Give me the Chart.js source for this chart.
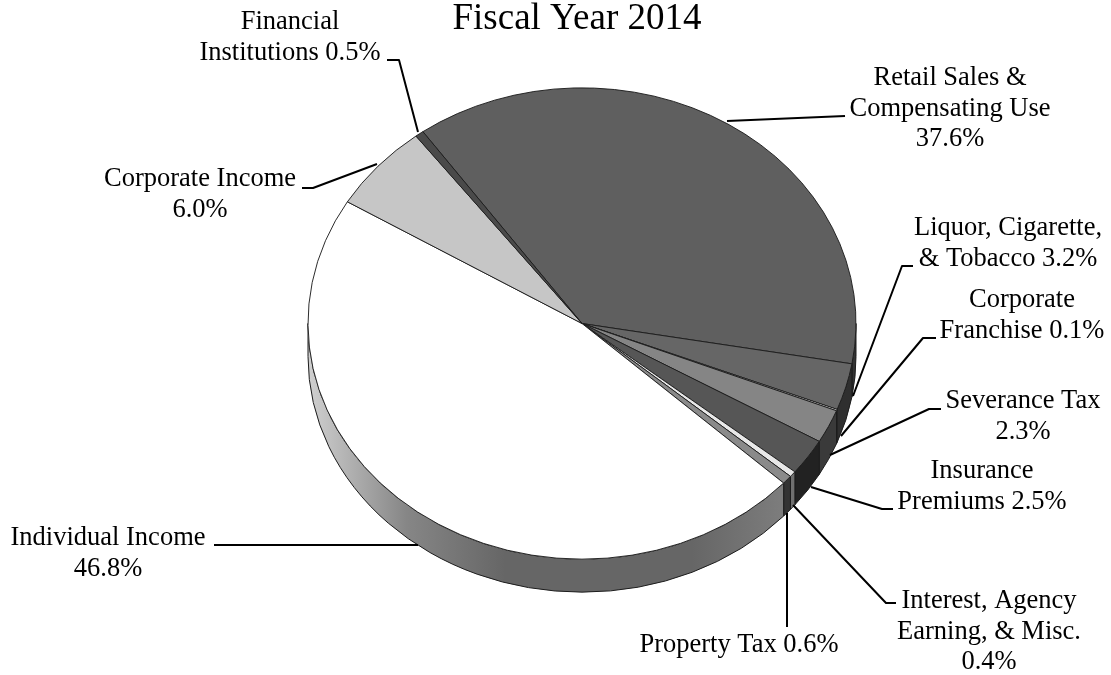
<!DOCTYPE html>
<html>
<head>
<meta charset="utf-8">
<style>
  html, body { margin: 0; padding: 0; background: #fff; }
  canvas { display: block; }
</style>
<script src="https://cdn.jsdelivr.net/npm/chart.js@4/dist/chart.umd.min.js"></script>
</head>
<body>
<canvas id="revenue" width="1111" height="675"></canvas>
<script>
// General revenue sources, share of total in percent
const categories = [
  'Retail Sales & Compensating Use', 'Liquor, Cigarette, & Tobacco', 'Corporate Franchise',
  'Severance Tax', 'Insurance Premiums', 'Interest, Agency Earning, & Misc.',
  'Property Tax', 'Individual Income', 'Corporate Income', 'Financial Institutions'
];
const shares = [37.6, 3.2, 0.1, 2.3, 2.5, 0.4, 0.6, 46.8, 6.0, 0.5];

const chartTitle = 'Fiscal Year 2014';

// Greys for the top face and for the cylinder wall of each slice
const faceColors = ['#5f5f5f', '#666666', '#f4f4f4', '#858585', '#565656', '#e8e8e8', '#8a8a8a', '#ffffff', '#c6c6c6', '#4a4a4a'];
const wallColors = ['#333333', '#2f2f2f', '#555555', '#3a3a3a', '#222222', '#707070', '#333333', null, '#888888', '#333333'];

// Disc geometry: the round pie is squashed into an ellipse and given a wall
const SQUASH = 0.86;
const DEPTH = 33;
const FONT = '"Liberation Serif", "Times New Roman", serif';
const LABEL_SIZE = 26.5;
const LINE_GAP = 30.7;

// Callout text: lines, centre x, first-line y, and the leader polyline
const callouts = [
  { lines: ['Retail Sales &', 'Compensating Use', '37.6%'], x: 950, y: 78,
    leader: [[845, 116], [727, 121]] },
  { lines: ['Liquor, Cigarette,', '& Tobacco 3.2%'], x: 1008, y: 228,
    leader: [[913, 266], [902, 266], [853, 396]] },
  { lines: ['Corporate', 'Franchise 0.1%'], x: 1022, y: 300,
    leader: [[936, 338], [923, 338], [841, 436]] },
  { lines: ['Severance Tax', '2.3%'], x: 1023, y: 401,
    leader: [[941, 409], [929, 409], [830, 455]] },
  { lines: ['Insurance', 'Premiums 2.5%'], x: 982, y: 471,
    leader: [[893, 509], [882, 509], [811, 487]] },
  { lines: ['Interest, Agency', 'Earning, & Misc.', '0.4%'], x: 989, y: 601,
    leader: [[896, 603], [886, 603], [793, 505]] },
  { lines: ['Property Tax 0.6%'], x: 739, y: 645,
    leader: [[787, 627], [787, 513]] },
  { lines: ['Individual Income', '46.8%'], x: 108, y: 538,
    leader: [[214, 545], [418, 545]] },
  { lines: ['Corporate Income', '6.0%'], x: 200, y: 179,
    leader: [[302, 188], [313, 188], [377, 164]] },
  { lines: ['Financial', 'Institutions 0.5%'], x: 290, y: 22,
    leader: [[387, 60], [399, 60], [418, 132]] }
];

// Wall of the disc: only the front half of the circle is visible
function drawWalls(chart) {
  const ctx = chart.ctx;
  const arcs = chart.getDatasetMeta(0).data;
  arcs.forEach((arc, i) => {
    const { x, y, outerRadius: r, startAngle, endAngle } = arc.getProps(['x', 'y', 'outerRadius', 'startAngle', 'endAngle'], true);
    const from = Math.max(startAngle, 0);
    const to = Math.min(endAngle, Math.PI);
    if (to <= from) return;
    const ry = r * SQUASH;
    ctx.beginPath();
    ctx.ellipse(x, y, r, ry, 0, from, to, false);
    ctx.ellipse(x, y + DEPTH, r, ry, 0, to, from, true);
    ctx.closePath();
    if (wallColors[i]) {
      ctx.fillStyle = wallColors[i];
    } else {
      const g = ctx.createLinearGradient(x - r, 0, x + r, 0);
      g.addColorStop(0, '#d0d0d0');
      g.addColorStop(0.18, '#868686');
      g.addColorStop(0.36, '#666666');
      g.addColorStop(0.7, '#666666');
      g.addColorStop(0.86, '#7c7c7c');
      g.addColorStop(1, '#7c7c7c');
      ctx.fillStyle = g;
    }
    ctx.fill();
    ctx.strokeStyle = '#1c1c1c';
    ctx.lineWidth = 1;
    ctx.stroke();
  });
}

const tiltedPie = {
  id: 'tiltedPie',
  beforeDatasetsDraw(chart) {
    drawWalls(chart);
    const { x, y } = chart.getDatasetMeta(0).data[0];
    const ctx = chart.ctx;
    ctx.save();
    ctx.translate(x, y);
    ctx.scale(1, SQUASH);
    ctx.translate(-x, -y);
  },
  afterDatasetsDraw(chart) {
    chart.ctx.restore();
  }
};

const callouts2d = {
  id: 'callouts2d',
  afterDraw(chart) {
    const ctx = chart.ctx;
    ctx.save();
    ctx.fillStyle = '#000';
    ctx.textAlign = 'center';
    ctx.textBaseline = 'middle';
    ctx.font = '37px ' + FONT;
    ctx.fillText(chartTitle, 577, 19);
    ctx.font = LABEL_SIZE + 'px ' + FONT;
    ctx.strokeStyle = '#000';
    ctx.lineWidth = 2;
    ctx.lineJoin = 'round';
    callouts.forEach(c => {
      c.lines.forEach((line, k) => ctx.fillText(line, c.x, c.y + k * LINE_GAP));
      ctx.beginPath();
      c.leader.forEach(([px, py], k) => k ? ctx.lineTo(px, py) : ctx.moveTo(px, py));
      ctx.stroke();
    });
    ctx.restore();
  }
};

new Chart(document.getElementById('revenue'), {
  type: 'pie',
  data: {
    labels: categories,
    datasets: [{
      data: shares,
      backgroundColor: faceColors,
      borderColor: '#1c1c1c',
      borderWidth: 1,
      clip: false
    }]
  },
  options: {
    responsive: false,
    animation: false,
    radius: 274,
    rotation: -35.5,
    layout: { padding: { left: 308, right: 255, top: 49, bottom: 77 } },
    plugins: { legend: { display: false }, tooltip: { enabled: false }, title: { display: false } }
  },
  plugins: [tiltedPie, callouts2d]
});
</script>
</body>
</html>
